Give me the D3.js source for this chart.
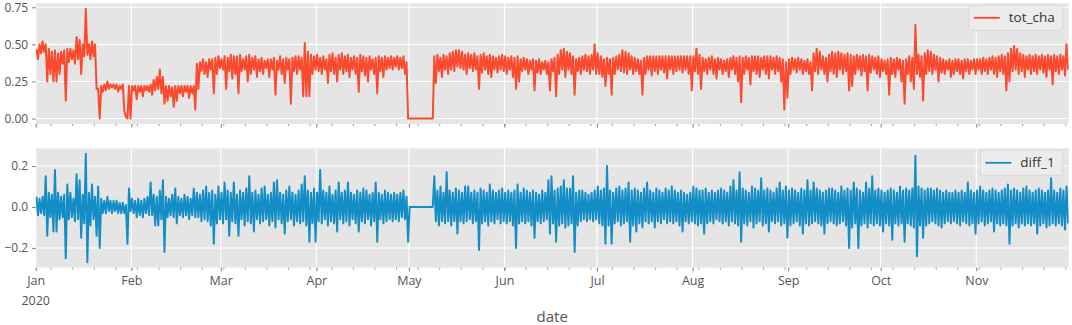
<!DOCTYPE html>
<html>
<head>
<meta charset="utf-8">
<script src="https://cdn.jsdelivr.net/npm/d3@7"></script>
<style>
  body { margin: 0; background: #fff; }
  text { font-family: "Open Sans", "Noto Sans", sans-serif; }
</style>
</head>
<body>
<svg id="chart" width="1072" height="325"></svg>
<script>
// daily high / low of the hourly series (one row per month, Jan..Nov 2020)
const totHigh = [
  0.47,0.50,0.52,0.50,0.47,0.45,0.46,0.44,0.45,0.46,0.47,0.47,0.46,0.55,0.53,0.50,0.74,0.50,0.52,0.50,0.20,0.22,0.23,0.25,0.23,0.23,0.23,0.22,0.23,0.01,0.22,
  0.22,0.22,0.22,0.22,0.22,0.22,0.23,0.26,0.28,0.33,0.28,0.22,0.22,0.21,0.22,0.22,0.22,0.22,0.22,0.22,0.22,0.37,0.38,0.40,0.38,0.40,0.40,0.41,0.42,
  0.40,0.42,0.41,0.43,0.42,0.42,0.43,0.40,0.42,0.43,0.41,0.42,0.40,0.41,0.39,0.40,0.40,0.41,0.39,0.42,0.40,0.41,0.40,0.41,0.42,0.42,0.41,0.51,0.45,0.43,0.42,
  0.43,0.41,0.42,0.40,0.43,0.44,0.41,0.43,0.44,0.42,0.43,0.41,0.42,0.41,0.43,0.42,0.41,0.42,0.40,0.41,0.42,0.41,0.42,0.41,0.42,0.41,0.42,0.41,0.42,0.38,
  0,0,0,0,0,0,0,0,0.42,0.43,0.41,0.43,0.42,0.44,0.45,0.46,0.46,0.45,0.43,0.44,0.43,0.44,0.42,0.43,0.44,0.42,0.43,0.42,0.41,0.42,0.43,
  0.42,0.41,0.42,0.41,0.42,0.40,0.41,0.40,0.39,0.40,0.39,0.40,0.38,0.39,0.38,0.40,0.41,0.43,0.46,0.47,0.45,0.44,0.42,0.40,0.41,0.42,0.43,0.42,0.43,0.50,
  0.44,0.42,0.40,0.41,0.40,0.41,0.42,0.43,0.46,0.45,0.44,0.42,0.41,0.40,0.39,0.41,0.42,0.42,0.42,0.42,0.42,0.42,0.42,0.42,0.42,0.42,0.42,0.42,0.42,0.42,0.42,
  0.42,0.47,0.43,0.41,0.40,0.41,0.42,0.40,0.41,0.40,0.39,0.40,0.41,0.42,0.41,0.42,0.41,0.42,0.41,0.42,0.42,0.42,0.41,0.42,0.42,0.42,0.41,0.42,0.41,0.40,0.38,
  0.40,0.41,0.40,0.41,0.40,0.39,0.40,0.38,0.44,0.47,0.45,0.42,0.41,0.43,0.45,0.44,0.45,0.44,0.43,0.44,0.43,0.42,0.43,0.42,0.43,0.42,0.43,0.42,0.41,0.42,
  0.40,0.39,0.40,0.41,0.40,0.41,0.40,0.39,0.40,0.42,0.41,0.63,0.43,0.42,0.44,0.46,0.45,0.43,0.42,0.41,0.40,0.39,0.40,0.39,0.40,0.40,0.39,0.40,0.40,0.39,0.40,
  0.40,0.40,0.41,0.40,0.41,0.42,0.41,0.42,0.43,0.42,0.44,0.47,0.49,0.47,0.44,0.43,0.42,0.43,0.42,0.43,0.42,0.43,0.42,0.43,0.42,0.43,0.42,0.43,0.42,0.50
];
const totLow = [
  0.40,0.44,0.45,0.25,0.30,0.25,0.25,0.30,0.37,0.12,0.38,0.40,0.37,0.40,0.30,0.42,0.43,0.40,0.42,0.20,0.00,0.18,0.19,0.20,0.21,0.20,0.18,0.20,0.05,0.00,0.00,
  0.19,0.13,0.18,0.15,0.19,0.18,0.16,0.19,0.20,0.17,0.10,0.12,0.15,0.08,0.12,0.17,0.15,0.18,0.14,0.17,0.06,0.20,0.32,0.30,0.28,0.33,0.17,0.30,0.34,
  0.33,0.20,0.32,0.27,0.30,0.17,0.32,0.33,0.25,0.30,0.33,0.28,0.32,0.30,0.34,0.28,0.33,0.16,0.33,0.30,0.24,0.33,0.10,0.32,0.30,0.33,0.15,0.15,0.15,0.30,0.33,
  0.32,0.30,0.33,0.24,0.32,0.30,0.25,0.33,0.30,0.32,0.28,0.33,0.30,0.18,0.32,0.29,0.25,0.33,0.30,0.17,0.32,0.28,0.33,0.34,0.33,0.35,0.33,0.34,0.30,0.00,
  0,0,0,0,0,0,0,0,0.24,0.32,0.28,0.33,0.30,0.33,0.32,0.35,0.34,0.33,0.30,0.34,0.32,0.33,0.20,0.31,0.33,0.30,0.28,0.33,0.31,0.33,0.32,
  0.30,0.33,0.28,0.20,0.25,0.32,0.33,0.30,0.33,0.19,0.31,0.30,0.33,0.30,0.19,0.32,0.15,0.30,0.33,0.28,0.33,0.30,0.16,0.32,0.30,0.33,0.32,0.30,0.33,0.30,
  0.30,0.28,0.22,0.30,0.16,0.30,0.33,0.32,0.31,0.30,0.33,0.30,0.32,0.30,0.16,0.30,0.33,0.29,0.32,0.30,0.33,0.31,0.27,0.33,0.30,0.32,0.33,0.31,0.33,0.30,0.19,
  0.32,0.30,0.20,0.32,0.30,0.33,0.30,0.27,0.33,0.30,0.32,0.28,0.33,0.30,0.25,0.11,0.30,0.33,0.23,0.32,0.30,0.28,0.33,0.30,0.27,0.33,0.30,0.32,0.25,0.06,0.14,
  0.30,0.33,0.31,0.33,0.30,0.32,0.30,0.19,0.32,0.30,0.33,0.30,0.25,0.32,0.30,0.28,0.33,0.30,0.32,0.19,0.22,0.30,0.33,0.29,0.32,0.19,0.31,0.33,0.30,0.28,
  0.32,0.30,0.16,0.30,0.28,0.33,0.25,0.10,0.30,0.25,0.20,0.30,0.28,0.12,0.30,0.32,0.30,0.33,0.25,0.31,0.30,0.33,0.28,0.30,0.32,0.30,0.27,0.32,0.30,0.33,0.30,
  0.33,0.30,0.32,0.30,0.33,0.30,0.28,0.32,0.30,0.19,0.25,0.32,0.33,0.30,0.32,0.28,0.33,0.30,0.32,0.30,0.33,0.31,0.28,0.33,0.23,0.32,0.30,0.33,0.29,0.33
];
const diffHigh = [
  0.05,0.04,0.05,0.15,0.07,0.06,0.18,0.07,0.05,0.06,0.11,0.07,0.04,0.16,0.13,0.06,0.26,0.07,0.11,0.05,0.10,0.04,0.03,0.05,0.03,0.03,0.03,0.02,0.02,0.01,0.09,
  0.04,0.03,0.04,0.03,0.04,0.05,0.12,0.06,0.05,0.08,0.13,0.05,0.04,0.06,0.09,0.05,0.04,0.06,0.05,0.04,0.09,0.07,0.06,0.08,0.10,0.07,0.08,0.06,0.10,
  0.07,0.12,0.08,0.07,0.12,0.06,0.08,0.07,0.09,0.15,0.07,0.08,0.06,0.09,0.10,0.06,0.07,0.12,0.13,0.07,0.06,0.08,0.10,0.07,0.06,0.08,0.11,0.15,0.08,0.07,0.09,
  0.07,0.18,0.08,0.07,0.10,0.06,0.08,0.12,0.07,0.08,0.12,0.07,0.06,0.08,0.07,0.09,0.08,0.06,0.07,0.12,0.07,0.06,0.08,0.07,0.06,0.07,0.06,0.07,0.08,0.05,
  0,0,0,0,0,0,0,0,0.15,0.08,0.10,0.07,0.17,0.08,0.07,0.09,0.08,0.07,0.10,0.10,0.07,0.08,0.07,0.09,0.08,0.07,0.11,0.08,0.07,0.08,0.09,
  0.07,0.08,0.07,0.08,0.11,0.07,0.09,0.08,0.07,0.08,0.07,0.06,0.08,0.07,0.13,0.15,0.08,0.09,0.10,0.13,0.09,0.09,0.15,0.07,0.08,0.08,0.07,0.06,0.07,0.08,
  0.10,0.08,0.09,0.20,0.08,0.07,0.09,0.10,0.08,0.09,0.12,0.08,0.09,0.08,0.07,0.09,0.12,0.08,0.07,0.09,0.08,0.07,0.09,0.08,0.10,0.08,0.07,0.08,0.07,0.06,0.07,
  0.10,0.09,0.08,0.08,0.09,0.07,0.08,0.07,0.08,0.09,0.08,0.07,0.10,0.13,0.08,0.17,0.09,0.08,0.07,0.10,0.09,0.08,0.14,0.08,0.09,0.08,0.07,0.09,0.12,0.08,0.10,
  0.08,0.09,0.08,0.07,0.09,0.08,0.13,0.08,0.12,0.09,0.08,0.07,0.08,0.09,0.09,0.08,0.07,0.10,0.08,0.09,0.08,0.12,0.09,0.08,0.07,0.12,0.09,0.15,0.08,0.09,
  0.08,0.07,0.08,0.09,0.08,0.07,0.10,0.08,0.09,0.08,0.09,0.25,0.10,0.09,0.08,0.09,0.09,0.08,0.09,0.08,0.07,0.08,0.07,0.07,0.08,0.07,0.08,0.07,0.12,0.08,0.07,
  0.08,0.10,0.08,0.07,0.08,0.09,0.08,0.07,0.08,0.09,0.11,0.08,0.09,0.08,0.07,0.09,0.10,0.08,0.07,0.08,0.09,0.08,0.07,0.08,0.14,0.08,0.07,0.09,0.08,0.10
];
const diffLow = [
  -0.04,-0.03,-0.04,-0.14,-0.05,-0.12,-0.12,-0.06,-0.05,-0.25,-0.06,-0.05,-0.07,-0.06,-0.15,-0.08,-0.27,-0.09,-0.06,-0.14,-0.20,-0.03,-0.03,-0.02,-0.03,-0.02,-0.03,-0.03,-0.03,-0.18,-0.02,
  -0.03,-0.05,-0.04,-0.05,-0.03,-0.04,-0.04,-0.09,-0.09,-0.06,-0.22,-0.05,-0.04,-0.05,-0.08,-0.04,-0.05,-0.04,-0.06,-0.04,-0.05,-0.05,-0.07,-0.06,-0.07,-0.09,-0.18,-0.08,-0.06,
  -0.08,-0.06,-0.14,-0.07,-0.08,-0.14,-0.06,-0.09,-0.07,-0.08,-0.12,-0.06,-0.08,-0.07,-0.06,-0.09,-0.07,-0.10,-0.06,-0.08,-0.13,-0.07,-0.06,-0.09,-0.07,-0.08,-0.07,-0.09,-0.17,-0.08,-0.17,
  -0.07,-0.08,-0.06,-0.09,-0.07,-0.08,-0.12,-0.06,-0.08,-0.07,-0.09,-0.06,-0.08,-0.12,-0.07,-0.08,-0.06,-0.09,-0.07,-0.17,-0.06,-0.08,-0.07,-0.06,-0.07,-0.06,-0.07,-0.05,-0.06,-0.17,
  0,0,0,0,0,0,0,0,-0.07,-0.09,-0.07,-0.08,-0.07,-0.09,-0.07,-0.13,-0.07,-0.08,-0.07,-0.06,-0.08,-0.07,-0.21,-0.08,-0.07,-0.09,-0.07,-0.08,-0.06,-0.08,-0.07,
  -0.08,-0.07,-0.09,-0.20,-0.08,-0.07,-0.08,-0.07,-0.09,-0.15,-0.07,-0.08,-0.07,-0.06,-0.13,-0.08,-0.17,-0.09,-0.08,-0.10,-0.09,-0.08,-0.22,-0.09,-0.07,-0.06,-0.07,-0.06,-0.07,-0.06,
  -0.08,-0.09,-0.18,-0.09,-0.18,-0.08,-0.07,-0.09,-0.08,-0.07,-0.17,-0.09,-0.12,-0.08,-0.10,-0.07,-0.08,-0.07,-0.10,-0.07,-0.08,-0.06,-0.08,-0.07,-0.08,-0.07,-0.09,-0.12,-0.07,-0.08,-0.07,
  -0.08,-0.09,-0.08,-0.13,-0.08,-0.07,-0.08,-0.06,-0.07,-0.08,-0.07,-0.09,-0.07,-0.08,-0.09,-0.17,-0.08,-0.09,-0.07,-0.10,-0.08,-0.07,-0.09,-0.08,-0.12,-0.07,-0.08,-0.07,-0.09,-0.08,-0.15,
  -0.09,-0.08,-0.07,-0.09,-0.13,-0.08,-0.09,-0.08,-0.07,-0.08,-0.09,-0.13,-0.08,-0.07,-0.08,-0.09,-0.08,-0.07,-0.09,-0.20,-0.10,-0.08,-0.20,-0.09,-0.08,-0.10,-0.08,-0.09,-0.08,-0.09,
  -0.12,-0.08,-0.09,-0.16,-0.08,-0.09,-0.08,-0.17,-0.08,-0.09,-0.10,-0.24,-0.09,-0.15,-0.09,-0.08,-0.07,-0.08,-0.09,-0.10,-0.08,-0.07,-0.08,-0.07,-0.08,-0.09,-0.07,-0.08,-0.09,-0.08,-0.13,
  -0.08,-0.07,-0.09,-0.08,-0.07,-0.12,-0.08,-0.09,-0.08,-0.09,-0.18,-0.09,-0.08,-0.10,-0.08,-0.09,-0.08,-0.09,-0.08,-0.13,-0.09,-0.08,-0.10,-0.09,-0.08,-0.09,-0.08,-0.09,-0.11,-0.08
];

const monthLabels = ["Jan","Feb","Mar","Apr","May","Jun","Jul","Aug","Sep","Oct","Nov"];
const totTicks = [0, 0.25, 0.5, 0.75];
const diffTicks = [-0.2, 0, 0.2];

const start = new Date(Date.UTC(2020, 0, 1));
const end = new Date(Date.UTC(2020, 10, 30, 23));
const DAY = 864e5;

const svg = d3.select("#chart");
const left = 35.7, right = 1068.7;

let x = d3.scaleUtc().domain([start, end]).range([left, right]);

// turn daily high / low into a zigzag of points (high in the morning, low in the evening)
function toPoints(hi, lo) {
  let pts = [];
  hi.forEach((h, i) => {
    pts.push({ t: new Date(start.getTime() + (i + 0.25) * DAY), v: h });
    pts.push({ t: new Date(start.getTime() + (i + 0.75) * DAY), v: lo[i] });
  });
  return pts;
}

let panels = [
  { name: "tot_cha", pts: toPoints(totHigh, totLow), top: 3.3, bottom: 124,
    color: "#fc4a2f", ticks: totTicks, fmt: d3.format(".2f") },
  { name: "diff_1", pts: toPoints(diffHigh, diffLow), top: 148.3, bottom: 267.7,
    color: "#138dc6", ticks: diffTicks, fmt: d3.format(".1f") }
];

let majors = d3.utcMonth.range(start, end);
let minors = d3.utcMonday.range(start, end);

panels.forEach((p, k) => {
  // matplotlib style 5% margins
  let ext = d3.extent(p.pts, d => d.v);
  let pad = (ext[1] - ext[0]) * 0.05;
  let y = d3.scaleLinear().domain([ext[0] - pad, ext[1] + pad]).range([p.bottom, p.top]);

  let g = svg.append("g");
  g.append("rect")
    .attr("x", left).attr("y", p.top)
    .attr("width", right - left).attr("height", p.bottom - p.top)
    .attr("fill", "#e5e5e5");

  // grid
  g.selectAll(".vg").data(majors).enter().append("line")
    .attr("x1", d => x(d)).attr("x2", d => x(d))
    .attr("y1", p.top).attr("y2", p.bottom)
    .attr("stroke", "#fff").attr("stroke-width", 1.1);
  g.selectAll(".hg").data(p.ticks).enter().append("line")
    .attr("x1", left).attr("x2", right)
    .attr("y1", d => y(d)).attr("y2", d => y(d))
    .attr("stroke", "#fff").attr("stroke-width", 1.1);

  // line
  let clipId = "clip" + k;
  svg.append("clipPath").attr("id", clipId).append("rect")
    .attr("x", left).attr("y", p.top)
    .attr("width", right - left).attr("height", p.bottom - p.top);
  g.append("path")
    .datum(p.pts)
    .attr("clip-path", `url(#${clipId})`)
    .attr("fill", "none")
    .attr("stroke", p.color)
    .attr("stroke-width", 2)
    .attr("stroke-linejoin", "round")
    .attr("d", d3.line().x(d => x(d.t)).y(d => y(d.v)));

  // y axis
  let yAxis = d3.axisLeft(y).tickValues(p.ticks).tickFormat(p.fmt).tickSize(3.5).tickPadding(4);
  let ya = svg.append("g").attr("transform", `translate(${left},0)`).call(yAxis);
  ya.select(".domain").remove();
  ya.selectAll("line").attr("stroke", "#555").attr("stroke-width", 0.8);
  ya.selectAll("text").attr("fill", "#555").style("font-size", "12px").style("font-family", "Open Sans");

  // x ticks (labels only on bottom panel)
  let xAxis = d3.axisBottom(x).tickValues(majors).tickSize(3.5).tickPadding(5)
    .tickFormat(k === 1 ? (d => monthLabels[d.getUTCMonth()]) : "");
  let xa = svg.append("g").attr("transform", `translate(0,${p.bottom})`).call(xAxis);
  xa.select(".domain").remove();
  xa.selectAll("line").attr("stroke", "#555").attr("stroke-width", 0.8);
  xa.selectAll("text").attr("fill", "#555").style("font-size", "12.5px").style("font-family", "Open Sans");
  xa.selectAll(".minor").data(minors).enter().append("line")
    .attr("class", "minor")
    .attr("x1", d => x(d)).attr("x2", d => x(d))
    .attr("y1", 0).attr("y2", 2)
    .attr("stroke", "#555").attr("stroke-width", 0.6);
  if (k === 1) {
    xa.append("text")
      .attr("x", x(start)).attr("y", 37.8)
      .attr("text-anchor", "middle")
      .attr("fill", "#555").style("font-size", "12.5px")
      .text("2020");
  }

  // legend
  let lg = svg.append("g");
  let box = lg.append("rect").attr("rx", 2.5)
    .attr("fill", "#ececec").attr("stroke", "#d4d4d4").attr("stroke-width", 0.8);
  let label = lg.append("text")
    .attr("fill", "#333").style("font-size", "13.5px")
    .text(p.name);
  let tw = label.node().getComputedTextLength();
  let bx1 = right - 6, bx0 = bx1 - (tw + 48), by0 = p.top + 2, by1 = by0 + 25;
  box.attr("x", bx0).attr("y", by0).attr("width", bx1 - bx0).attr("height", by1 - by0);
  lg.append("line")
    .attr("x1", bx0 + 5).attr("x2", bx0 + 31)
    .attr("y1", (by0 + by1) / 2).attr("y2", (by0 + by1) / 2)
    .attr("stroke", p.color).attr("stroke-width", 1.8);
  label.attr("x", bx0 + 40).attr("y", (by0 + by1) / 2 + 4.5);
});

svg.append("text")
  .attr("x", (left + right) / 2).attr("y", 321.5)
  .attr("text-anchor", "middle")
  .attr("fill", "#555").style("font-size", "15px")
  .text("date");
</script>
</body>
</html>
